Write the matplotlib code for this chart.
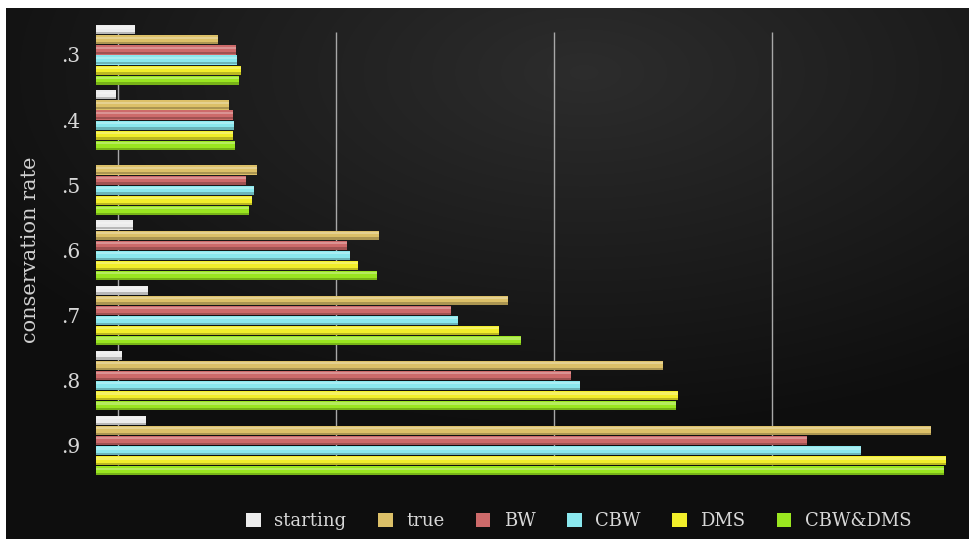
import numpy as np
import matplotlib
matplotlib.use("Agg")
import matplotlib.pyplot as plt
from matplotlib.patches import Patch

# ---- data ----
rates = ['.3', '.4', '.5', '.6', '.7', '.8', '.9']
series = ['starting', 'true', 'BW', 'CBW', 'DMS', 'CBW&DMS']
starting = [0.18, 0.09, 0.0, 0.17, 0.24, 0.12, 0.23]
true_v = [0.56, 0.61, 0.74, 1.30, 1.89, 2.60, 3.83]
bw = [0.64, 0.63, 0.69, 1.15, 1.63, 2.18, 3.26]
cbw = [0.645, 0.632, 0.725, 1.165, 1.66, 2.22, 3.51]
dms = [0.665, 0.630, 0.715, 1.20, 1.85, 2.67, 3.90]
cbw_dms = [0.655, 0.636, 0.70, 1.29, 1.95, 2.66, 3.89]
grid_ticks = [0.1, 1.1, 2.1, 3.1]
colors = ['#ececec', '#dcc068', '#cd6a6a', '#8ae8ee', '#f2ee2a', '#9ae620']
values = [starting, true_v, bw, cbw, dms, cbw_dms]

W, H = 970, 539
fig = plt.figure(figsize=(W / 100, H / 100), dpi=100, facecolor='white')

# ---- dark gradient background ----
bg = fig.add_axes([6 / W, 0, (W - 6) / W, (H - 8) / H])
bg.set_axis_off()
yy, xx = np.mgrid[0:1:300j, 0:1:540j]
r = np.sqrt(((xx - 0.6) / 0.85) ** 2 + ((yy - 0.12) / 0.8) ** 2)
val = np.clip(0.175 - 0.14 * r, 0.055, 0.2)
img = np.dstack([val, val, val])
bg.imshow(img, aspect='auto', extent=[0, 1, 1, 0], interpolation='bilinear')
bg.set_xlim(0, 1)
bg.set_ylim(1, 0)

# ---- main axes ----
ax_left = 96 / W
ax_right = 968 / W
ax_top_px, ax_bot_px = 22, 480
ax = fig.add_axes([ax_left, 1 - ax_bot_px / H, ax_right - ax_left, (ax_bot_px - ax_top_px) / H])
ax.set_facecolor('none')

gpx = 65.1
c0 = 55
ax.set_xlim(0, 4.0)
ax.set_ylim((ax_bot_px - c0) / gpx, (ax_top_px - c0) / gpx)

h = 10.1 / gpx
idx = np.arange(len(rates))

# gridlines
ax.vlines(grid_ticks, (32 - c0) / gpx, 6.3, colors='#a8a8a8', linewidth=1.0, zorder=1)

for k, (vals, col) in enumerate(zip(values, colors)):
    pos = idx + (k - 2.5) * h
    ax.barh(pos, vals, height=h * 0.92, color=col, edgecolor='none', zorder=3)
    # highlight strip (top) and shade strip (bottom) for a glossy look
    ax.barh(pos - h * 0.22, vals, height=h * 0.22, color='white', alpha=0.28,
            edgecolor='none', zorder=4)
    ax.barh(pos + h * 0.33, vals, height=h * 0.22, color='black', alpha=0.22,
            edgecolor='none', zorder=4)

ax.set_yticks(idx)
ax.set_yticklabels(rates, family='DejaVu Serif', fontsize=14.5, color='#d8d8d8')
ax.tick_params(axis='y', length=0, pad=11)
ax.set_xticks([])
for s in ax.spines.values():
    s.set_visible(False)

fig.text(31 / W, 1 - 250 / H, 'conservation rate', rotation=90, ha='center', va='center',
         family='DejaVu Serif', fontsize=15, color='#d0d0d0')

handles = [Patch(facecolor=c, edgecolor='none') for c in colors]
leg = fig.legend(handles, series, loc='center', bbox_to_anchor=(579 / W, 18 / H), ncol=6,
                 frameon=False, handlelength=0.8, handleheight=0.8, handletextpad=0.75,
                 columnspacing=1.75, prop={'family': 'DejaVu Serif', 'size': 13})
for t in leg.get_texts():
    t.set_color('#d8d8d8')

fig.savefig('out.png', dpi=100, facecolor=fig.get_facecolor())
